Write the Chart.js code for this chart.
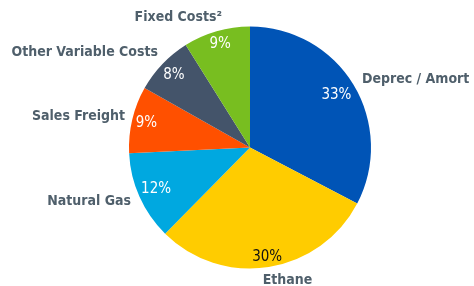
<!DOCTYPE html>
<html>
<head>
<meta charset="utf-8">
<script src="https://cdn.jsdelivr.net/npm/chart.js@4"></script>
<style>
  html,body{margin:0;padding:0;background:#fff;}
  #wrap{width:474px;height:286px;position:relative;}
</style>
</head>
<body>
<div id="wrap"><canvas id="c"></canvas></div>
<script>
// cost breakdown pie
const categories = ['Deprec / Amort', 'Ethane', 'Natural Gas', 'Sales Freight', 'Other Variable Costs', 'Fixed Costs\u00B2'];
const shares = [33, 30, 12, 9, 8, 9];
const colors = ['#0054b6', '#ffcc00', '#00a8e0', '#ff5000', '#44546a', '#78be20'];
const pctColors = ['#fff', '#111', '#fff', '#fff', '#fff', '#fff'];

// label placement tweaks (styling only)
const pctRadius = [0.835, 0.915, 0.85, 0.88, 0.87, 0.89];
const nameNudge = [[-1,0],[17,2],[1.5,0],[3.5,-0.5],[3.5,-4],[8.5,-3]];

const FONT = "'DejaVu Sans Condensed', 'Liberation Sans', sans-serif";

const pieLabels = {
  id:'pieLabels',
  afterDatasetsDraw(chart){
    const ctx = chart.ctx;
    const meta = chart.getDatasetMeta(0);
    ctx.save();
    meta.data.forEach((arc, i)=>{
      const {x, y, startAngle, endAngle, outerRadius} = arc.getProps(['x','y','startAngle','endAngle','outerRadius'], true);
      const mid = (startAngle + endAngle) / 2;
      const cs = Math.cos(mid), sn = Math.sin(mid);
      // percentage inside
      const r1 = outerRadius * pctRadius[i];
      ctx.font = '15px ' + FONT;
      ctx.fillStyle = pctColors[i];
      ctx.textAlign = 'center';
      ctx.textBaseline = 'middle';
      ctx.fillText(shares[i] + '%', x + cs * r1, y + sn * r1);
      // category outside
      const r2 = outerRadius + 11;
      const ax = x + cs * r2 + nameNudge[i][0];
      const ay = y + sn * r2 + nameNudge[i][1];
      ctx.font = 'bold 14px ' + FONT;
      ctx.fillStyle = '#4f5f6b';
      ctx.textAlign = cs > 0.3 ? 'left' : (cs < -0.3 ? 'right' : 'center');
      if (i === 5) ctx.textAlign = 'right';
      ctx.fillText(categories[i], ax, ay);
    });
    ctx.restore();
  }
};

new Chart(document.getElementById('c'), {
  type:'pie',
  data:{ labels: categories, datasets:[{ data: shares, backgroundColor: colors, borderWidth:0 }] },
  options:{
    responsive:true,
    maintainAspectRatio:false,
    animation:false,
    layout:{ padding:{ top:26, bottom:17, left:129, right:103 } },
    plugins:{ legend:{ display:false }, tooltip:{ enabled:false } }
  },
  plugins:[pieLabels]
});
</script>
</body>
</html>
